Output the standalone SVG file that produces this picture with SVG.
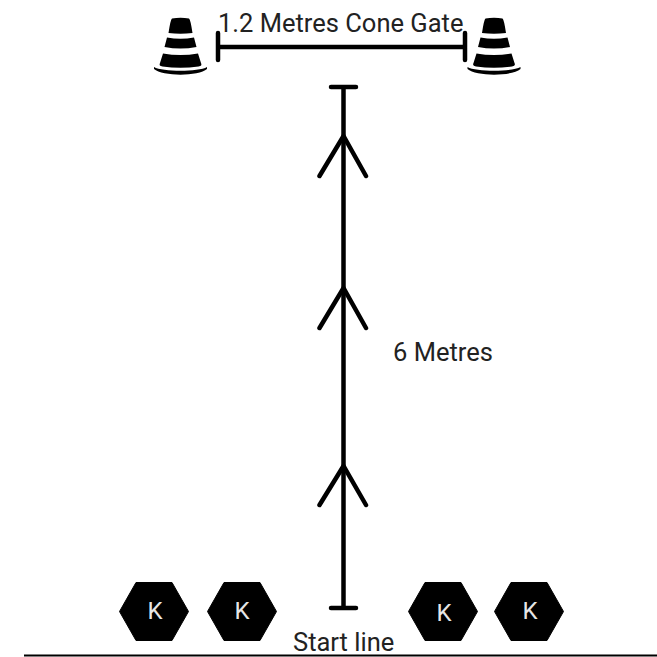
<svg xmlns="http://www.w3.org/2000/svg" width="657" height="657" viewBox="0 0 657 657">
<style>
text{font-family:Roboto,"Liberation Sans",sans-serif;fill:#222;font-size:25.500px}
.k{fill:#e6e6e6;font-size:24px;text-anchor:middle}
.l{fill:none;stroke:#000;stroke-width:4.500;stroke-linecap:round}
</style>
<defs>
<g id="cone">
<path d="M-8.500 18.500Q0 17 8.500 18.500Q10 19.500 12 33Q0 34.500 -12 33Q-10 19.500 -8.500 18.500ZM-13.500 37.500Q0 40 13.500 37.500L16 47Q0 50 -16 47ZM-17.500 53.500Q0 56.500 17.500 53.500L20.500 63Q22 66 18 66.500Q0 69 -18 66.500Q-22 66 -20.500 63Z" fill="#000"/>
<path d="M-26.500 67C-18 72 18 72 26.500 67L26.500 69C18 76.500 -18 76.500 -26.500 69Z" fill="#000"/>
</g>
<polygon id="hex" points="-34.500,0 -18,-29 18,-29 34.500,0 18,29 -18,29" fill="#000" stroke="#000" stroke-width="1" stroke-linejoin="round"/>
</defs>
<g id="connectors">
<path class="l" d="M218 33V60M218 47H465M465 33V60"/>
<path class="l" d="M331 87H356M343.500 87V608M331 608H356"/>
<path class="l" d="M319.500 176L343.500 136L366 176M319.500 328L343.500 288L366 328M319.500 505L343.500 466L366 505"/>
<path d="M24 655.500H657" stroke="#000" stroke-width="2"/>
</g>
<g id="cone-left"><use href="#cone" x="180.500"/></g>
<g id="cone-right"><use href="#cone" x="494"/></g>
<g id="k1"><use href="#hex" x="154" y="611.500"/><text class="k" x="155" y="619">K</text></g>
<g id="k2"><use href="#hex" x="242" y="611.500"/><text class="k" x="242" y="618.500">K</text></g>
<g id="k3"><use href="#hex" x="443" y="611.500"/><text class="k" x="444" y="621">K</text></g>
<g id="k4"><use href="#hex" x="529" y="611.500"/><text class="k" x="530" y="619">K</text></g>
<g id="labels">
<text x="218" y="31.500">1.2 Metres Cone Gate</text>
<text x="393" y="361">6 Metres</text>
<text x="293" y="651">Start line</text>
</g>
</svg>
